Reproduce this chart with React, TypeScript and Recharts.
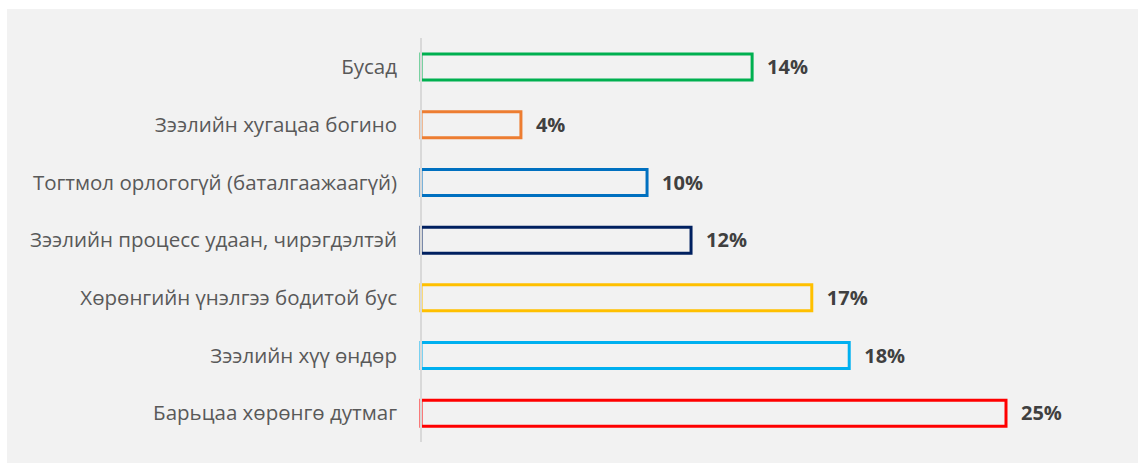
import React from 'react';
import { BarChart, Bar, XAxis, YAxis, Cell, LabelList } from 'recharts';

const categories = [
  'Бусад',
  'Зээлийн хугацаа богино',
  'Тогтмол орлогогүй (баталгаажаагүй)',
  'Зээлийн процесс удаан, чирэгдэлтэй',
  'Хөрөнгийн үнэлгээ бодитой бус',
  'Зээлийн хүү өндөр',
  'Барьцаа хөрөнгө дутмаг',
];
const values = [14.15, 4.27, 9.66, 11.54, 16.7, 18.3, 25.0];
const colors = ['#00b050', '#ed7d31', '#0070c0', '#002060', '#ffc000', '#00b0f0', '#ff0000'];

const data = categories.map((name, i) => ({ name, value: values[i] }));

const FONT = '"Open Sans", "Noto Sans", sans-serif';

export default function App() {
  return (
    <div style={{ position: 'absolute', left: 7, top: 9, width: 1131, height: 454, background: '#f2f2f2' }}>
      <BarChart
        width={1131}
        height={454}
        data={data}
        layout="vertical"
        margin={{ top: 29, right: 15, bottom: 21, left: 0 }}
        barSize={26}
      >
        <XAxis type="number" domain={[0, 30]} hide />
        <YAxis
          type="category"
          dataKey="name"
          width={414}
          axisLine={{ stroke: '#d9d9d9', strokeWidth: 2 }}
          tickLine={false}
          tickMargin={18}
          interval={0}
          tick={{ fill: '#595959', fontSize: 20.5, fontFamily: FONT }}
        />
        <Bar dataKey="value" isAnimationActive={false} strokeWidth={3} fill="#f2f2f2">
          {data.map((d, i) => (
            <Cell key={d.name} stroke={colors[i]} fill="#f2f2f2" />
          ))}
          <LabelList
            dataKey="value"
            position="right"
            offset={15}
            formatter={(v: number) => `${Math.round(v)}%`}
            style={{ fill: '#404040', fontSize: 20, fontWeight: 700, fontFamily: FONT }}
          />
        </Bar>
      </BarChart>
    </div>
  );
}
